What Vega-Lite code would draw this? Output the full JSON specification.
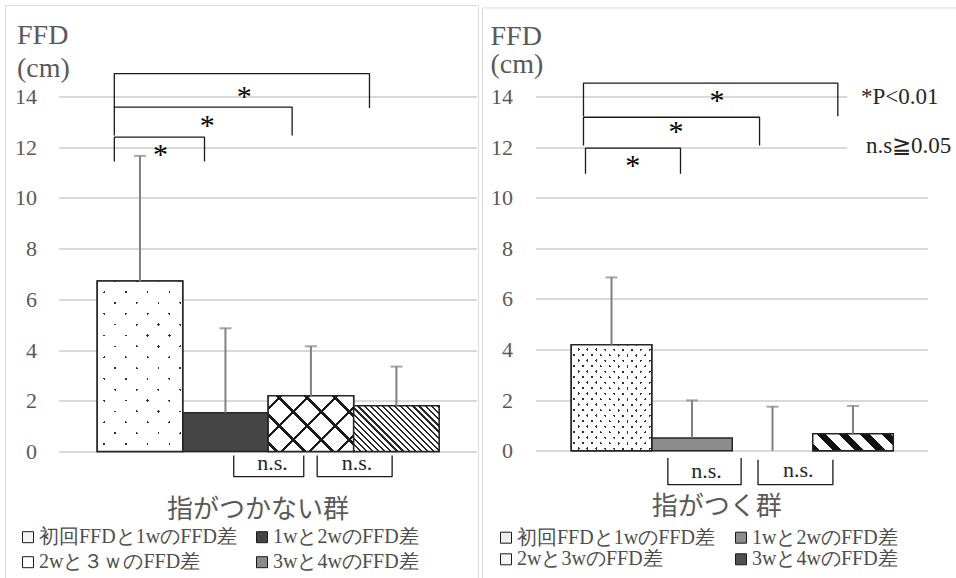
{
  "$schema": "https://vega.github.io/schema/vega-lite/v6.json",
  "background": "white",
  "padding": {"left": 4.5, "top": 4.5, "right": 0, "bottom": 0},
  "config": {"view": {"stroke": null}, "font": "Liberation Serif",
    "axis": {"labelFont": "Liberation Serif", "titleFont": "Liberation Serif"},
    "axisY": {"labelFont": "Liberation Serif", "titleFont": "Liberation Serif"}},
  "datasets": {
    "L_bars": [
      {"cat": "初回FFDと1wのFFD差", "x": 1, "y": 6.72, "top": 11.66},
      {"cat": "1wと2wのFFD差", "x": 2, "y": 1.53, "top": 4.86},
      {"cat": "2wと３ｗのFFD差", "x": 3, "y": 2.2, "top": 4.15},
      {"cat": "3wと4wのFFD差", "x": 4, "y": 1.8, "top": 3.35}
    ],
    "R_bars": [
      {"cat": "初回FFDと1wのFFD差", "x": 1, "y": 4.19, "top": 6.85},
      {"cat": "1wと2wのFFD差", "x": 2, "y": 0.5, "top": 1.99},
      {"cat": "2wと3wのFFD差", "x": 3, "y": 0, "top": 1.74},
      {"cat": "3wと4wのFFD差", "x": 4, "y": 0.67, "top": 1.77}
    ],
    "L_brk": [
      {"g": "b1", "o": 1, "x": 0.70, "y": 11.44}, {"g": "b1", "o": 2, "x": 0.70, "y": 12.40}, {"g": "b1", "o": 3, "x": 1.755, "y": 12.40}, {"g": "b1", "o": 4, "x": 1.755, "y": 11.44},
      {"g": "b2", "o": 1, "x": 0.70, "y": 12.46}, {"g": "b2", "o": 2, "x": 0.70, "y": 13.58}, {"g": "b2", "o": 3, "x": 2.78, "y": 13.58}, {"g": "b2", "o": 4, "x": 2.78, "y": 12.46},
      {"g": "b3", "o": 1, "x": 0.70, "y": 13.55}, {"g": "b3", "o": 2, "x": 0.70, "y": 14.90}, {"g": "b3", "o": 3, "x": 3.685, "y": 14.90}, {"g": "b3", "o": 4, "x": 3.685, "y": 13.55},
      {"g": "n1", "o": 1, "x": 2.097, "y": -0.16}, {"g": "n1", "o": 2, "x": 2.097, "y": -0.99}, {"g": "n1", "o": 3, "x": 2.916, "y": -0.99}, {"g": "n1", "o": 4, "x": 2.916, "y": -0.16},
      {"g": "n2", "o": 1, "x": 3.073, "y": -0.16}, {"g": "n2", "o": 2, "x": 3.073, "y": -0.99}, {"g": "n2", "o": 3, "x": 3.95, "y": -0.99}, {"g": "n2", "o": 4, "x": 3.95, "y": -0.16}
    ],
    "R_brk": [
      {"g": "b1", "o": 1, "x": 0.677, "y": 10.95}, {"g": "b1", "o": 2, "x": 0.677, "y": 11.96}, {"g": "b1", "o": 3, "x": 1.857, "y": 11.96}, {"g": "b1", "o": 4, "x": 1.857, "y": 10.95},
      {"g": "b2", "o": 1, "x": 0.652, "y": 12.06}, {"g": "b2", "o": 2, "x": 0.652, "y": 13.18}, {"g": "b2", "o": 3, "x": 2.839, "y": 13.18}, {"g": "b2", "o": 4, "x": 2.839, "y": 12.06},
      {"g": "b3", "o": 1, "x": 0.652, "y": 13.22}, {"g": "b3", "o": 2, "x": 0.652, "y": 14.53}, {"g": "b3", "o": 3, "x": 3.811, "y": 14.53}, {"g": "b3", "o": 4, "x": 3.811, "y": 13.22},
      {"g": "n1", "o": 1, "x": 1.70, "y": -0.29}, {"g": "n1", "o": 2, "x": 1.70, "y": -1.34}, {"g": "n1", "o": 3, "x": 2.61, "y": -1.34}, {"g": "n1", "o": 4, "x": 2.61, "y": -0.29},
      {"g": "n2", "o": 1, "x": 2.82, "y": -0.36}, {"g": "n2", "o": 2, "x": 2.82, "y": -1.34}, {"g": "n2", "o": 3, "x": 3.75, "y": -1.34}, {"g": "n2", "o": 4, "x": 3.75, "y": -0.36}
    ],
    "L_txt": [
      {"k": "star", "x": 1.24, "y": 11.71, "t": "*"},
      {"k": "star", "x": 1.786, "y": 12.85, "t": "*"},
      {"k": "star", "x": 2.22, "y": 14.0, "t": "*"},
      {"k": "ns", "x": 2.55, "y": -0.45, "t": "n.s."},
      {"k": "ns", "x": 3.54, "y": -0.45, "t": "n.s."}
    ],
    "R_txt": [
      {"k": "star", "x": 1.265, "y": 11.26, "t": "*"},
      {"k": "star", "x": 1.80, "y": 12.6, "t": "*"},
      {"k": "star", "x": 2.31, "y": 13.81, "t": "*"},
      {"k": "ns", "x": 2.18, "y": -0.81, "t": "n.s."},
      {"k": "ns", "x": 3.32, "y": -0.75, "t": "n.s."}
    ],
    "R_note": [
      {"x": 4.10, "y": 14.0, "t": "*P<0.01"},
      {"x": 4.16, "y": 12.03, "t": "n.s≧0.05"}
    ],
    "R_box": [{"x": 3.93, "x2": 5.3, "y": 15.2, "y2": 11.3}],
    "L_frame": [{"x": -0.573, "x2": 4.96, "y": 17.59, "y2": -5.09}],
    "R_frame": [{"x": -0.602, "x2": 5.35, "y": 17.50, "y2": -5.23}]
  },
  "concat": [
    {
      "width": 418,
      "height": 355,
      "encoding": {
        "x": {"field": "x", "type": "quantitative", "scale": {"domain": [0.047, 4.937], "nice": false, "zero": false, "padding": 0},
          "axis": {"title": "指がつかない群", "labels": false, "ticks": false, "domain": false, "grid": false,
            "titleFont": "Noto Sans CJK JP", "titleFontSize": 26, "titleFontWeight": "normal", "titleColor": "#595959",
            "titleX": 199, "titleY": 58, "titleAlign": "center", "titleBaseline": "middle"}},
        "y": {"field": "y", "type": "quantitative", "scale": {"domain": [0, 14], "nice": false, "zero": false},
          "axis": {"title": ["FFD", "(cm)"], "values": [0, 2, 4, 6, 8, 10, 12, 14], "domain": false, "ticks": false,
            "labelPadding": 22, "labelFontSize": 22, "labelColor": "#595959", "labelFont": "Liberation Serif",
            "grid": true, "gridColor": "#d9d9d9", "gridWidth": 1.8,
            "titleAngle": 0, "titleAlign": "left", "titleBaseline": "top", "titleX": -42, "titleY": -75,
            "titleFont": "Liberation Serif", "titleFontSize": 28, "titleFontWeight": "normal", "titleColor": "#595959", "titleLineHeight": 33}}
      },
      "layer": [
        {"data": {"name": "L_frame"}, "mark": {"type": "rect", "fill": null, "stroke": "#d9d9d9", "strokeWidth": 1},
          "encoding": {"x2": {"field": "x2"}, "y2": {"field": "y2"}}},
        {"data": {"name": "L_bars"}, "mark": {"type": "bar", "size": 85.5, "orient": "vertical", "stroke": "#262626", "strokeWidth": 1.5},
          "encoding": {"fill": {"field": "cat", "type": "nominal",
            "scale": {"domain": ["初回FFDと1wのFFD差", "2wと３ｗのFFD差", "1wと2wのFFD差", "3wと4wのFFD差"], "range": ["#f4f4f4", "#ffffff", "#454545", "#8c8c8c"]},
            "legend": {"orient": "none", "legendX": -40.5, "legendY": 430.7, "columns": 2, "title": null, "padding": 0,
              "symbolType": "square", "symbolSize": 121, "symbolStrokeColor": "#1a1a1a", "symbolStrokeWidth": 1,
              "labelFont": "Liberation Serif", "labelFontSize": 20, "labelColor": "#4d4d4d", "labelOffset": 1,
              "columnPadding": 15, "rowPadding": 5, "labelLimit": 400}}}},
        {"data": {"name": "L_bars"}, "transform": [{"filter": "datum.x == 1"}],
          "mark": {"type": "bar", "size": 85.5, "orient": "vertical",
            "fill": {"gradient": "linear", "x1": 0, "y1": 0, "x2": 0.602, "y2": 1.2, "stops": [
              {"offset": 0, "color": "#ffffff"}, {"offset": 0.0655, "color": "#ffffff"}, {"offset": 0.0655, "color": "#303030"}, {"offset": 0.0752, "color": "#303030"}, {"offset": 0.0752, "color": "#ffffff"},
              {"offset": 0.1503, "color": "#ffffff"}, {"offset": 0.1503, "color": "#303030"}, {"offset": 0.16, "color": "#303030"}, {"offset": 0.16, "color": "#ffffff"},
              {"offset": 0.2351, "color": "#ffffff"}, {"offset": 0.2351, "color": "#303030"}, {"offset": 0.2448, "color": "#303030"}, {"offset": 0.2448, "color": "#ffffff"},
              {"offset": 0.3199, "color": "#ffffff"}, {"offset": 0.3199, "color": "#303030"}, {"offset": 0.3296, "color": "#303030"}, {"offset": 0.3296, "color": "#ffffff"},
              {"offset": 0.4047, "color": "#ffffff"}, {"offset": 0.4047, "color": "#303030"}, {"offset": 0.4144, "color": "#303030"}, {"offset": 0.4144, "color": "#ffffff"},
              {"offset": 0.4895, "color": "#ffffff"}, {"offset": 0.4895, "color": "#303030"}, {"offset": 0.4992, "color": "#303030"}, {"offset": 0.4992, "color": "#ffffff"},
              {"offset": 0.5742, "color": "#ffffff"}, {"offset": 0.5742, "color": "#303030"}, {"offset": 0.584, "color": "#303030"}, {"offset": 0.584, "color": "#ffffff"},
              {"offset": 0.659, "color": "#ffffff"}, {"offset": 0.659, "color": "#303030"}, {"offset": 0.6688, "color": "#303030"}, {"offset": 0.6688, "color": "#ffffff"},
              {"offset": 0.7438, "color": "#ffffff"}, {"offset": 0.7438, "color": "#303030"}, {"offset": 0.7536, "color": "#303030"}, {"offset": 0.7536, "color": "#ffffff"},
              {"offset": 0.8286, "color": "#ffffff"}, {"offset": 0.8286, "color": "#303030"}, {"offset": 0.8384, "color": "#303030"}, {"offset": 0.8384, "color": "#ffffff"},
              {"offset": 0.9134, "color": "#ffffff"}, {"offset": 0.9134, "color": "#303030"}, {"offset": 0.9232, "color": "#303030"}, {"offset": 0.9232, "color": "#ffffff"},
              {"offset": 1, "color": "#ffffff"}]}}},
        {"data": {"name": "L_bars"}, "transform": [{"filter": "datum.x == 1"}],
          "mark": {"type": "bar", "size": 85.5, "orient": "vertical", "stroke": "#262626", "strokeWidth": 1.5,
            "fill": {"gradient": "linear", "x1": 0, "y1": 1, "x2": 0.602, "y2": -0.2, "stops": [
              {"offset": 0, "color": "#ffffff"}, {"offset": 0.0518, "color": "#ffffff"}, {"offset": 0.0518, "color": "rgba(255,255,255,0)"}, {"offset": 0.0615, "color": "rgba(255,255,255,0)"}, {"offset": 0.0615, "color": "#ffffff"},
              {"offset": 0.1366, "color": "#ffffff"}, {"offset": 0.1366, "color": "rgba(255,255,255,0)"}, {"offset": 0.1463, "color": "rgba(255,255,255,0)"}, {"offset": 0.1463, "color": "#ffffff"},
              {"offset": 0.2214, "color": "#ffffff"}, {"offset": 0.2214, "color": "rgba(255,255,255,0)"}, {"offset": 0.2311, "color": "rgba(255,255,255,0)"}, {"offset": 0.2311, "color": "#ffffff"},
              {"offset": 0.3062, "color": "#ffffff"}, {"offset": 0.3062, "color": "rgba(255,255,255,0)"}, {"offset": 0.3159, "color": "rgba(255,255,255,0)"}, {"offset": 0.3159, "color": "#ffffff"},
              {"offset": 0.391, "color": "#ffffff"}, {"offset": 0.391, "color": "rgba(255,255,255,0)"}, {"offset": 0.4007, "color": "rgba(255,255,255,0)"}, {"offset": 0.4007, "color": "#ffffff"},
              {"offset": 0.4758, "color": "#ffffff"}, {"offset": 0.4758, "color": "rgba(255,255,255,0)"}, {"offset": 0.4855, "color": "rgba(255,255,255,0)"}, {"offset": 0.4855, "color": "#ffffff"},
              {"offset": 0.5606, "color": "#ffffff"}, {"offset": 0.5606, "color": "rgba(255,255,255,0)"}, {"offset": 0.5703, "color": "rgba(255,255,255,0)"}, {"offset": 0.5703, "color": "#ffffff"},
              {"offset": 0.6454, "color": "#ffffff"}, {"offset": 0.6454, "color": "rgba(255,255,255,0)"}, {"offset": 0.6551, "color": "rgba(255,255,255,0)"}, {"offset": 0.6551, "color": "#ffffff"},
              {"offset": 0.7302, "color": "#ffffff"}, {"offset": 0.7302, "color": "rgba(255,255,255,0)"}, {"offset": 0.7399, "color": "rgba(255,255,255,0)"}, {"offset": 0.7399, "color": "#ffffff"},
              {"offset": 0.815, "color": "#ffffff"}, {"offset": 0.815, "color": "rgba(255,255,255,0)"}, {"offset": 0.8247, "color": "rgba(255,255,255,0)"}, {"offset": 0.8247, "color": "#ffffff"},
              {"offset": 0.8998, "color": "#ffffff"}, {"offset": 0.8998, "color": "rgba(255,255,255,0)"}, {"offset": 0.9095, "color": "rgba(255,255,255,0)"}, {"offset": 0.9095, "color": "#ffffff"},
              {"offset": 0.9846, "color": "#ffffff"}, {"offset": 0.9846, "color": "rgba(255,255,255,0)"}, {"offset": 0.9943, "color": "rgba(255,255,255,0)"}, {"offset": 0.9943, "color": "#ffffff"},
              {"offset": 1, "color": "#ffffff"}]}}},
        {"data": {"name": "L_bars"}, "transform": [{"filter": "datum.x == 3"}],
          "mark": {"type": "bar", "size": 85.5, "orient": "vertical",
            "fill": {"gradient": "linear", "x1": 0, "y1": 0, "x2": 1.159, "y2": 0.7563, "stops": [
              {"offset": 0, "color": "#ffffff"}, {"offset": 0.08, "color": "#ffffff"}, {"offset": 0.08, "color": "#1a1a1a"}, {"offset": 0.105, "color": "#1a1a1a"}, {"offset": 0.105, "color": "#ffffff"},
              {"offset": 0.278, "color": "#ffffff"}, {"offset": 0.278, "color": "#1a1a1a"}, {"offset": 0.303, "color": "#1a1a1a"}, {"offset": 0.303, "color": "#ffffff"},
              {"offset": 0.476, "color": "#ffffff"}, {"offset": 0.476, "color": "#1a1a1a"}, {"offset": 0.501, "color": "#1a1a1a"}, {"offset": 0.501, "color": "#ffffff"},
              {"offset": 0.674, "color": "#ffffff"}, {"offset": 0.674, "color": "#1a1a1a"}, {"offset": 0.699, "color": "#1a1a1a"}, {"offset": 0.699, "color": "#ffffff"},
              {"offset": 0.872, "color": "#ffffff"}, {"offset": 0.872, "color": "#1a1a1a"}, {"offset": 0.897, "color": "#1a1a1a"}, {"offset": 0.897, "color": "#ffffff"},
              {"offset": 1, "color": "#ffffff"}]}}},
        {"data": {"name": "L_bars"}, "transform": [{"filter": "datum.x == 3"}],
          "mark": {"type": "bar", "size": 85.5, "orient": "vertical", "stroke": "#262626", "strokeWidth": 1.5,
            "fill": {"gradient": "linear", "x1": 0, "y1": 1, "x2": 1.159, "y2": 0.2437, "stops": [
              {"offset": 0, "color": "rgba(0,0,0,0)"}, {"offset": 0.05, "color": "rgba(0,0,0,0)"}, {"offset": 0.05, "color": "#1a1a1a"}, {"offset": 0.075, "color": "#1a1a1a"}, {"offset": 0.075, "color": "rgba(0,0,0,0)"},
              {"offset": 0.248, "color": "rgba(0,0,0,0)"}, {"offset": 0.248, "color": "#1a1a1a"}, {"offset": 0.273, "color": "#1a1a1a"}, {"offset": 0.273, "color": "rgba(0,0,0,0)"},
              {"offset": 0.446, "color": "rgba(0,0,0,0)"}, {"offset": 0.446, "color": "#1a1a1a"}, {"offset": 0.471, "color": "#1a1a1a"}, {"offset": 0.471, "color": "rgba(0,0,0,0)"},
              {"offset": 0.644, "color": "rgba(0,0,0,0)"}, {"offset": 0.644, "color": "#1a1a1a"}, {"offset": 0.669, "color": "#1a1a1a"}, {"offset": 0.669, "color": "rgba(0,0,0,0)"},
              {"offset": 0.842, "color": "rgba(0,0,0,0)"}, {"offset": 0.842, "color": "#1a1a1a"}, {"offset": 0.867, "color": "#1a1a1a"}, {"offset": 0.867, "color": "rgba(0,0,0,0)"},
              {"offset": 1, "color": "rgba(0,0,0,0)"}]}}},
        {"data": {"name": "L_bars"}, "transform": [{"filter": "datum.x == 4"}],
          "mark": {"type": "bar", "size": 85.5, "orient": "vertical", "stroke": "#262626", "strokeWidth": 1.5,
            "fill": {"gradient": "linear", "x1": 0, "y1": 1, "x2": 1.1937, "y2": 0.3628, "stops": [
              {"offset": 0, "color": "#262626"}, {"offset": 0.017, "color": "#262626"}, {"offset": 0.017, "color": "#ffffff"}, {"offset": 0.0465, "color": "#ffffff"},
              {"offset": 0.0465, "color": "#262626"}, {"offset": 0.0635, "color": "#262626"}, {"offset": 0.0635, "color": "#ffffff"}, {"offset": 0.093, "color": "#ffffff"},
              {"offset": 0.093, "color": "#262626"}, {"offset": 0.11, "color": "#262626"}, {"offset": 0.11, "color": "#ffffff"}, {"offset": 0.1395, "color": "#ffffff"},
              {"offset": 0.1395, "color": "#262626"}, {"offset": 0.1565, "color": "#262626"}, {"offset": 0.1565, "color": "#ffffff"}, {"offset": 0.186, "color": "#ffffff"},
              {"offset": 0.186, "color": "#262626"}, {"offset": 0.203, "color": "#262626"}, {"offset": 0.203, "color": "#ffffff"}, {"offset": 0.2325, "color": "#ffffff"},
              {"offset": 0.2325, "color": "#262626"}, {"offset": 0.2495, "color": "#262626"}, {"offset": 0.2495, "color": "#ffffff"}, {"offset": 0.279, "color": "#ffffff"},
              {"offset": 0.279, "color": "#262626"}, {"offset": 0.296, "color": "#262626"}, {"offset": 0.296, "color": "#ffffff"}, {"offset": 0.3255, "color": "#ffffff"},
              {"offset": 0.3255, "color": "#262626"}, {"offset": 0.3425, "color": "#262626"}, {"offset": 0.3425, "color": "#ffffff"}, {"offset": 0.372, "color": "#ffffff"},
              {"offset": 0.372, "color": "#262626"}, {"offset": 0.389, "color": "#262626"}, {"offset": 0.389, "color": "#ffffff"}, {"offset": 0.4185, "color": "#ffffff"},
              {"offset": 0.4185, "color": "#262626"}, {"offset": 0.4355, "color": "#262626"}, {"offset": 0.4355, "color": "#ffffff"}, {"offset": 0.465, "color": "#ffffff"},
              {"offset": 0.465, "color": "#262626"}, {"offset": 0.482, "color": "#262626"}, {"offset": 0.482, "color": "#ffffff"}, {"offset": 0.5115, "color": "#ffffff"},
              {"offset": 0.5115, "color": "#262626"}, {"offset": 0.5285, "color": "#262626"}, {"offset": 0.5285, "color": "#ffffff"}, {"offset": 0.558, "color": "#ffffff"},
              {"offset": 0.558, "color": "#262626"}, {"offset": 0.575, "color": "#262626"}, {"offset": 0.575, "color": "#ffffff"}, {"offset": 0.6045, "color": "#ffffff"},
              {"offset": 0.6045, "color": "#262626"}, {"offset": 0.6215, "color": "#262626"}, {"offset": 0.6215, "color": "#ffffff"}, {"offset": 0.651, "color": "#ffffff"},
              {"offset": 0.651, "color": "#262626"}, {"offset": 0.668, "color": "#262626"}, {"offset": 0.668, "color": "#ffffff"}, {"offset": 0.6975, "color": "#ffffff"},
              {"offset": 0.6975, "color": "#262626"}, {"offset": 0.7145, "color": "#262626"}, {"offset": 0.7145, "color": "#ffffff"}, {"offset": 0.744, "color": "#ffffff"},
              {"offset": 0.744, "color": "#262626"}, {"offset": 0.761, "color": "#262626"}, {"offset": 0.761, "color": "#ffffff"}, {"offset": 0.7905, "color": "#ffffff"},
              {"offset": 0.7905, "color": "#262626"}, {"offset": 0.8075, "color": "#262626"}, {"offset": 0.8075, "color": "#ffffff"}, {"offset": 0.837, "color": "#ffffff"},
              {"offset": 0.837, "color": "#262626"}, {"offset": 0.854, "color": "#262626"}, {"offset": 0.854, "color": "#ffffff"}, {"offset": 0.8835, "color": "#ffffff"},
              {"offset": 0.8835, "color": "#262626"}, {"offset": 0.9005, "color": "#262626"}, {"offset": 0.9005, "color": "#ffffff"}, {"offset": 0.93, "color": "#ffffff"},
              {"offset": 0.93, "color": "#262626"}, {"offset": 0.947, "color": "#262626"}, {"offset": 0.947, "color": "#ffffff"}, {"offset": 0.9765, "color": "#ffffff"},
              {"offset": 0.9765, "color": "#262626"}, {"offset": 0.9935, "color": "#262626"}, {"offset": 0.9935, "color": "#ffffff"}, {"offset": 1, "color": "#ffffff"}]}}},
        {"data": {"name": "L_bars"}, "mark": {"type": "rule", "color": "#808080", "strokeWidth": 2},
          "encoding": {"y2": {"field": "top"}}},
        {"data": {"name": "L_bars"}, "mark": {"type": "tick", "orient": "horizontal", "size": 12, "thickness": 2, "color": "#808080"},
          "encoding": {"y": {"field": "top", "type": "quantitative", "scale": {"domain": [0, 14], "nice": false, "zero": false},
            "axis": {"title": ["FFD", "(cm)"], "values": [0, 2, 4, 6, 8, 10, 12, 14], "domain": false, "ticks": false,
              "labelPadding": 22, "labelFontSize": 22, "labelColor": "#595959", "labelFont": "Liberation Serif",
              "grid": true, "gridColor": "#d9d9d9", "gridWidth": 1.8,
              "titleAngle": 0, "titleAlign": "left", "titleBaseline": "top", "titleX": -42, "titleY": -75,
              "titleFont": "Liberation Serif", "titleFontSize": 28, "titleFontWeight": "normal", "titleColor": "#595959", "titleLineHeight": 33}}}},
        {"data": {"name": "L_brk"}, "mark": {"type": "line", "color": "#1a1a1a", "strokeWidth": 1.3, "strokeJoin": "round"},
          "encoding": {"detail": {"field": "g"}, "order": {"field": "o"}}},
        {"data": {"name": "L_txt"}, "transform": [{"filter": "datum.k == 'star'"}],
          "mark": {"type": "text", "fontSize": 30, "color": "#000000", "baseline": "middle", "font": "Liberation Serif"},
          "encoding": {"text": {"field": "t"}}},
        {"data": {"name": "L_txt"}, "transform": [{"filter": "datum.k == 'ns'"}],
          "mark": {"type": "text", "fontSize": 22, "color": "#262626", "baseline": "middle", "font": "Liberation Serif"},
          "encoding": {"text": {"field": "t"}}}
      ]
    },
    {
      "width": 392,
      "height": 354.2,
      "encoding": {
        "x": {"field": "x", "type": "quantitative", "scale": {"domain": [0.056, 4.925], "nice": false, "zero": false, "padding": 0},
          "axis": {"title": "指がつく群", "labels": false, "ticks": false, "domain": false, "grid": false,
            "titleFont": "Noto Sans CJK JP", "titleFontSize": 26, "titleFontWeight": "normal", "titleColor": "#595959",
            "titleX": 180.7, "titleY": 56, "titleAlign": "center", "titleBaseline": "middle"}},
        "y": {"field": "y", "type": "quantitative", "scale": {"domain": [0, 14], "nice": false, "zero": false},
          "axis": {"title": ["FFD", "(cm)"], "values": [0, 2, 4, 6, 8, 10, 12, 14], "domain": false, "ticks": false,
            "labelPadding": 23, "labelFontSize": 22, "labelColor": "#595959", "labelFont": "Liberation Serif",
            "grid": true, "gridColor": "#d9d9d9", "gridWidth": 1.8,
            "titleAngle": 0, "titleAlign": "left", "titleBaseline": "top", "titleX": -45.5, "titleY": -74,
            "titleFont": "Liberation Serif", "titleFontSize": 28, "titleFontWeight": "normal", "titleColor": "#595959", "titleLineHeight": 28}}
      },
      "layer": [
        {"data": {"name": "R_frame"}, "mark": {"type": "rect", "fill": null, "stroke": "#d9d9d9", "strokeWidth": 1},
          "encoding": {"x2": {"field": "x2"}, "y2": {"field": "y2"}}},
        {"data": {"name": "R_box"}, "mark": {"type": "rect", "fill": "#ffffff", "stroke": null},
          "encoding": {"x2": {"field": "x2"}, "y2": {"field": "y2"}}},
        {"data": {"name": "R_bars"}, "transform": [{"filter": "datum.y > 0"}],
          "mark": {"type": "bar", "size": 80.5, "orient": "vertical", "stroke": "#262626", "strokeWidth": 1.5},
          "encoding": {"fill": {"field": "cat", "type": "nominal",
            "scale": {"domain": ["初回FFDと1wのFFD差", "2wと3wのFFD差", "1wと2wのFFD差", "3wと4wのFFD差"], "range": ["#eeeeee", "#f4f4f4", "#8c8c8c", "#505050"]},
            "legend": {"orient": "none", "legendX": -39.5, "legendY": 431.2, "columns": 2, "title": null, "padding": 0,
              "symbolType": "square", "symbolSize": 121, "symbolStrokeColor": "#1a1a1a", "symbolStrokeWidth": 1,
              "labelFont": "Liberation Serif", "labelFontSize": 20, "labelColor": "#4d4d4d", "labelOffset": 1,
              "columnPadding": 16, "rowPadding": 1.6, "labelLimit": 400}}}},
        {"data": {"name": "R_bars"}, "transform": [{"filter": "datum.x == 1"}],
          "mark": {"type": "bar", "size": 80.5, "orient": "vertical",
            "fill": {"gradient": "linear", "x1": 0, "y1": 0, "x2": 0.9674, "y2": 1.0306, "stops": [
              {"offset": 0, "color": "#ffffff"}, {"offset": 0.0075, "color": "#ffffff"}, {"offset": 0.0075, "color": "#303030"}, {"offset": 0.022, "color": "#303030"}, {"offset": 0.022, "color": "#ffffff"},
              {"offset": 0.0611, "color": "#ffffff"}, {"offset": 0.0611, "color": "#303030"}, {"offset": 0.0755, "color": "#303030"}, {"offset": 0.0755, "color": "#ffffff"},
              {"offset": 0.1146, "color": "#ffffff"}, {"offset": 0.1146, "color": "#303030"}, {"offset": 0.129, "color": "#303030"}, {"offset": 0.129, "color": "#ffffff"},
              {"offset": 0.1681, "color": "#ffffff"}, {"offset": 0.1681, "color": "#303030"}, {"offset": 0.1826, "color": "#303030"}, {"offset": 0.1826, "color": "#ffffff"},
              {"offset": 0.2217, "color": "#ffffff"}, {"offset": 0.2217, "color": "#303030"}, {"offset": 0.2361, "color": "#303030"}, {"offset": 0.2361, "color": "#ffffff"},
              {"offset": 0.2752, "color": "#ffffff"}, {"offset": 0.2752, "color": "#303030"}, {"offset": 0.2896, "color": "#303030"}, {"offset": 0.2896, "color": "#ffffff"},
              {"offset": 0.3287, "color": "#ffffff"}, {"offset": 0.3287, "color": "#303030"}, {"offset": 0.3432, "color": "#303030"}, {"offset": 0.3432, "color": "#ffffff"},
              {"offset": 0.3823, "color": "#ffffff"}, {"offset": 0.3823, "color": "#303030"}, {"offset": 0.3967, "color": "#303030"}, {"offset": 0.3967, "color": "#ffffff"},
              {"offset": 0.4358, "color": "#ffffff"}, {"offset": 0.4358, "color": "#303030"}, {"offset": 0.4502, "color": "#303030"}, {"offset": 0.4502, "color": "#ffffff"},
              {"offset": 0.4893, "color": "#ffffff"}, {"offset": 0.4893, "color": "#303030"}, {"offset": 0.5038, "color": "#303030"}, {"offset": 0.5038, "color": "#ffffff"},
              {"offset": 0.5429, "color": "#ffffff"}, {"offset": 0.5429, "color": "#303030"}, {"offset": 0.5573, "color": "#303030"}, {"offset": 0.5573, "color": "#ffffff"},
              {"offset": 0.5964, "color": "#ffffff"}, {"offset": 0.5964, "color": "#303030"}, {"offset": 0.6108, "color": "#303030"}, {"offset": 0.6108, "color": "#ffffff"},
              {"offset": 0.6499, "color": "#ffffff"}, {"offset": 0.6499, "color": "#303030"}, {"offset": 0.6644, "color": "#303030"}, {"offset": 0.6644, "color": "#ffffff"},
              {"offset": 0.7035, "color": "#ffffff"}, {"offset": 0.7035, "color": "#303030"}, {"offset": 0.7179, "color": "#303030"}, {"offset": 0.7179, "color": "#ffffff"},
              {"offset": 0.757, "color": "#ffffff"}, {"offset": 0.757, "color": "#303030"}, {"offset": 0.7714, "color": "#303030"}, {"offset": 0.7714, "color": "#ffffff"},
              {"offset": 0.8105, "color": "#ffffff"}, {"offset": 0.8105, "color": "#303030"}, {"offset": 0.825, "color": "#303030"}, {"offset": 0.825, "color": "#ffffff"},
              {"offset": 0.8641, "color": "#ffffff"}, {"offset": 0.8641, "color": "#303030"}, {"offset": 0.8785, "color": "#303030"}, {"offset": 0.8785, "color": "#ffffff"},
              {"offset": 0.9176, "color": "#ffffff"}, {"offset": 0.9176, "color": "#303030"}, {"offset": 0.932, "color": "#303030"}, {"offset": 0.932, "color": "#ffffff"},
              {"offset": 0.9711, "color": "#ffffff"}, {"offset": 0.9711, "color": "#303030"}, {"offset": 0.9856, "color": "#303030"}, {"offset": 0.9856, "color": "#ffffff"},
              {"offset": 1, "color": "#ffffff"}]}}},
        {"data": {"name": "R_bars"}, "transform": [{"filter": "datum.x == 1"}],
          "mark": {"type": "bar", "size": 80.5, "orient": "vertical", "stroke": "#262626", "strokeWidth": 1.5,
            "fill": {"gradient": "linear", "x1": 0, "y1": 1, "x2": 0.9674, "y2": -0.0306, "stops": [
              {"offset": 0, "color": "rgba(255,255,255,0)"}, {"offset": 0.0072, "color": "rgba(255,255,255,0)"}, {"offset": 0.0072, "color": "#ffffff"},
              {"offset": 0.0463, "color": "#ffffff"}, {"offset": 0.0463, "color": "rgba(255,255,255,0)"}, {"offset": 0.0608, "color": "rgba(255,255,255,0)"}, {"offset": 0.0608, "color": "#ffffff"},
              {"offset": 0.0998, "color": "#ffffff"}, {"offset": 0.0998, "color": "rgba(255,255,255,0)"}, {"offset": 0.1143, "color": "rgba(255,255,255,0)"}, {"offset": 0.1143, "color": "#ffffff"},
              {"offset": 0.1534, "color": "#ffffff"}, {"offset": 0.1534, "color": "rgba(255,255,255,0)"}, {"offset": 0.1678, "color": "rgba(255,255,255,0)"}, {"offset": 0.1678, "color": "#ffffff"},
              {"offset": 0.2069, "color": "#ffffff"}, {"offset": 0.2069, "color": "rgba(255,255,255,0)"}, {"offset": 0.2214, "color": "rgba(255,255,255,0)"}, {"offset": 0.2214, "color": "#ffffff"},
              {"offset": 0.2605, "color": "#ffffff"}, {"offset": 0.2605, "color": "rgba(255,255,255,0)"}, {"offset": 0.2749, "color": "rgba(255,255,255,0)"}, {"offset": 0.2749, "color": "#ffffff"},
              {"offset": 0.314, "color": "#ffffff"}, {"offset": 0.314, "color": "rgba(255,255,255,0)"}, {"offset": 0.3284, "color": "rgba(255,255,255,0)"}, {"offset": 0.3284, "color": "#ffffff"},
              {"offset": 0.3675, "color": "#ffffff"}, {"offset": 0.3675, "color": "rgba(255,255,255,0)"}, {"offset": 0.382, "color": "rgba(255,255,255,0)"}, {"offset": 0.382, "color": "#ffffff"},
              {"offset": 0.4211, "color": "#ffffff"}, {"offset": 0.4211, "color": "rgba(255,255,255,0)"}, {"offset": 0.4355, "color": "rgba(255,255,255,0)"}, {"offset": 0.4355, "color": "#ffffff"},
              {"offset": 0.4746, "color": "#ffffff"}, {"offset": 0.4746, "color": "rgba(255,255,255,0)"}, {"offset": 0.489, "color": "rgba(255,255,255,0)"}, {"offset": 0.489, "color": "#ffffff"},
              {"offset": 0.5281, "color": "#ffffff"}, {"offset": 0.5281, "color": "rgba(255,255,255,0)"}, {"offset": 0.5426, "color": "rgba(255,255,255,0)"}, {"offset": 0.5426, "color": "#ffffff"},
              {"offset": 0.5817, "color": "#ffffff"}, {"offset": 0.5817, "color": "rgba(255,255,255,0)"}, {"offset": 0.5961, "color": "rgba(255,255,255,0)"}, {"offset": 0.5961, "color": "#ffffff"},
              {"offset": 0.6352, "color": "#ffffff"}, {"offset": 0.6352, "color": "rgba(255,255,255,0)"}, {"offset": 0.6496, "color": "rgba(255,255,255,0)"}, {"offset": 0.6496, "color": "#ffffff"},
              {"offset": 0.6887, "color": "#ffffff"}, {"offset": 0.6887, "color": "rgba(255,255,255,0)"}, {"offset": 0.7032, "color": "rgba(255,255,255,0)"}, {"offset": 0.7032, "color": "#ffffff"},
              {"offset": 0.7423, "color": "#ffffff"}, {"offset": 0.7423, "color": "rgba(255,255,255,0)"}, {"offset": 0.7567, "color": "rgba(255,255,255,0)"}, {"offset": 0.7567, "color": "#ffffff"},
              {"offset": 0.7958, "color": "#ffffff"}, {"offset": 0.7958, "color": "rgba(255,255,255,0)"}, {"offset": 0.8102, "color": "rgba(255,255,255,0)"}, {"offset": 0.8102, "color": "#ffffff"},
              {"offset": 0.8493, "color": "#ffffff"}, {"offset": 0.8493, "color": "rgba(255,255,255,0)"}, {"offset": 0.8638, "color": "rgba(255,255,255,0)"}, {"offset": 0.8638, "color": "#ffffff"},
              {"offset": 0.9029, "color": "#ffffff"}, {"offset": 0.9029, "color": "rgba(255,255,255,0)"}, {"offset": 0.9173, "color": "rgba(255,255,255,0)"}, {"offset": 0.9173, "color": "#ffffff"},
              {"offset": 0.9564, "color": "#ffffff"}, {"offset": 0.9564, "color": "rgba(255,255,255,0)"}, {"offset": 0.9708, "color": "rgba(255,255,255,0)"}, {"offset": 0.9708, "color": "#ffffff"},
              {"offset": 1, "color": "#ffffff"}]}}},
        {"data": {"name": "R_bars"}, "transform": [{"filter": "datum.x == 4"}],
          "mark": {"type": "bar", "size": 80.5, "orient": "vertical", "stroke": "#262626", "strokeWidth": 1.5,
            "fill": {"gradient": "linear", "x1": 0, "y1": 1, "x2": 1.1592, "y2": 0.7559, "stops": [
              {"offset": 0, "color": "#111111"}, {"offset": 0.081, "color": "#111111"}, {"offset": 0.081, "color": "#ffffff"}, {"offset": 0.208, "color": "#ffffff"},
              {"offset": 0.208, "color": "#111111"}, {"offset": 0.304, "color": "#111111"}, {"offset": 0.304, "color": "#ffffff"}, {"offset": 0.431, "color": "#ffffff"},
              {"offset": 0.431, "color": "#111111"}, {"offset": 0.527, "color": "#111111"}, {"offset": 0.527, "color": "#ffffff"}, {"offset": 0.654, "color": "#ffffff"},
              {"offset": 0.654, "color": "#111111"}, {"offset": 0.749, "color": "#111111"}, {"offset": 0.749, "color": "#ffffff"}, {"offset": 0.876, "color": "#ffffff"},
              {"offset": 0.876, "color": "#111111"}, {"offset": 0.972, "color": "#111111"}, {"offset": 0.972, "color": "#ffffff"}, {"offset": 1, "color": "#ffffff"}]}}},
        {"data": {"name": "R_bars"}, "mark": {"type": "rule", "color": "#808080", "strokeWidth": 2},
          "encoding": {"y2": {"field": "top"}}},
        {"data": {"name": "R_bars"}, "mark": {"type": "tick", "orient": "horizontal", "size": 12, "thickness": 2, "color": "#808080"},
          "encoding": {"y": {"field": "top", "type": "quantitative", "scale": {"domain": [0, 14], "nice": false, "zero": false},
            "axis": {"title": ["FFD", "(cm)"], "values": [0, 2, 4, 6, 8, 10, 12, 14], "domain": false, "ticks": false,
              "labelPadding": 23, "labelFontSize": 22, "labelColor": "#595959", "labelFont": "Liberation Serif",
              "grid": true, "gridColor": "#d9d9d9", "gridWidth": 1.8,
              "titleAngle": 0, "titleAlign": "left", "titleBaseline": "top", "titleX": -45.5, "titleY": -74,
              "titleFont": "Liberation Serif", "titleFontSize": 28, "titleFontWeight": "normal", "titleColor": "#595959", "titleLineHeight": 28}}}},
        {"data": {"name": "R_brk"}, "mark": {"type": "line", "color": "#1a1a1a", "strokeWidth": 1.3, "strokeJoin": "round"},
          "encoding": {"detail": {"field": "g"}, "order": {"field": "o"}}},
        {"data": {"name": "R_txt"}, "transform": [{"filter": "datum.k == 'star'"}],
          "mark": {"type": "text", "fontSize": 30, "color": "#000000", "baseline": "middle", "font": "Liberation Serif"},
          "encoding": {"text": {"field": "t"}}},
        {"data": {"name": "R_txt"}, "transform": [{"filter": "datum.k == 'ns'"}],
          "mark": {"type": "text", "fontSize": 22, "color": "#262626", "baseline": "middle", "font": "Liberation Serif"},
          "encoding": {"text": {"field": "t"}}},
        {"data": {"name": "R_note"},
          "mark": {"type": "text", "fontSize": 23, "color": "#262626", "baseline": "middle", "align": "left", "font": "Liberation Serif"},
          "encoding": {"text": {"field": "t"}}}
      ]
    }
  ],
  "columns": 2,
  "align": "none",
  "spacing": 2,
  "resolve": {"scale": {"x": "independent", "y": "independent", "fill": "independent"}, "legend": {"fill": "independent"}}
}
